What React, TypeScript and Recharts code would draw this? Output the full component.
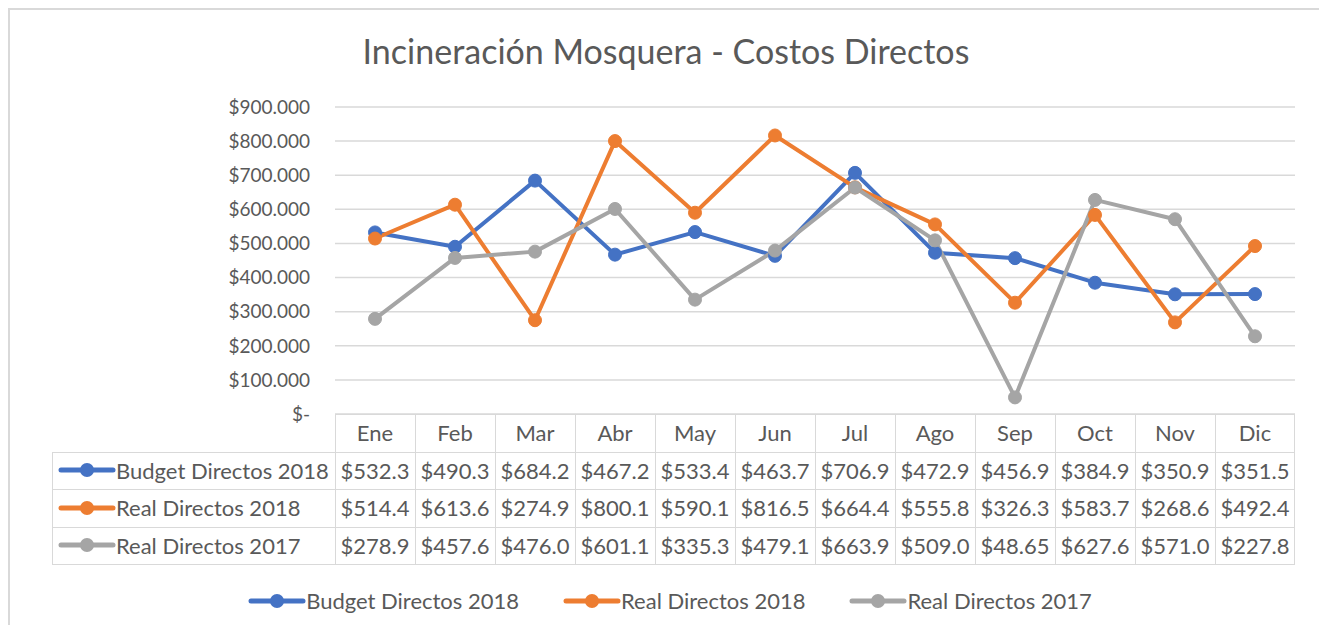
import { LineChart, Line, XAxis, YAxis, CartesianGrid } from "recharts";

const months = ["Ene", "Feb", "Mar", "Abr", "May", "Jun", "Jul", "Ago", "Sep", "Oct", "Nov", "Dic"];
// valores en miles de pesos
const budget2018 = [532.3, 490.3, 684.2, 467.2, 533.4, 463.7, 706.9, 472.9, 456.9, 384.9, 350.9, 351.5];
const real2018 = [514.4, 613.6, 274.9, 800.1, 590.1, 816.5, 664.4, 555.8, 326.3, 583.7, 268.6, 492.4];
const real2017 = [278.9, 457.6, 476.0, 601.1, 335.3, 479.1, 663.9, 509.0, 48.65, 627.6, 571.0, 227.8];
const yTicks = [0, 100, 200, 300, 400, 500, 600, 700, 800, 900];

const series = [
  { key: "budget2018", name: "Budget Directos 2018", color: "#4472C4", values: budget2018 },
  { key: "real2018", name: "Real Directos 2018", color: "#ED7D31", values: real2018 },
  { key: "real2017", name: "Real Directos 2017", color: "#A5A5A5", values: real2017 },
];

const data = months.map((m, i) => ({
  month: m,
  budget2018: budget2018[i],
  real2018: real2018[i],
  real2017: real2017[i],
}));

const FONT = "Lato, 'Liberation Sans', sans-serif";
const TEXT = "#595959";
const GRID = "#D9D9D9";

const cellText = (v: number) => "$" + v.toFixed(2).slice(0, 5);

function Marker({ color }: { color: string }) {
  return (
    <svg width={58} height={16} style={{ flex: "none" }}>
      <line x1={3} y1={8} x2={55} y2={8} stroke={color} strokeWidth={5} strokeLinecap="round" />
      <circle cx={29} cy={8} r={7} fill={color} />
    </svg>
  );
}

export default function App() {
  const plotLeft = 325;
  const colW = 80;
  const tableTop = 404;
  const rowH = 37.5;
  const labelLeft = 42;

  return (
    <div
      style={{
        position: "relative",
        width: 1315,
        height: 617,
        boxSizing: "border-box",
        border: `2px solid ${GRID}`,
        borderBottom: "none",
        background: "#fff",
        fontFamily: FONT,
        color: TEXT,
        overflow: "hidden",
      }}
    >
      <div style={{ position: "absolute", left: 0, top: 24, width: 1312, textAlign: "center", fontSize: 34, lineHeight: 1 }}>
        Incineración Mosquera - Costos Directos
      </div>

      <div style={{ position: "absolute", left: 0, top: 0 }}>
        <LineChart width={1310} height={420} data={data} margin={{ top: 97, right: 25, bottom: 16, left: 265 }}>
          <CartesianGrid vertical={false} stroke={GRID} strokeWidth={1.5} />
          <XAxis dataKey="month" hide padding={{ left: 40, right: 40 }} />
          <YAxis
            width={60}
            domain={[0, 900]}
            ticks={yTicks}
            tickSize={0}
            tickMargin={25}
            axisLine={false}
            tickLine={false}
            tick={{ fill: TEXT, fontSize: 19, fontFamily: FONT }}
            tickFormatter={(v: number) => (v === 0 ? "$-" : `$${v}.000`)}
          />
          {series.map((s) => (
            <Line
              key={s.key}
              dataKey={s.key}
              name={s.name}
              stroke={s.color}
              strokeWidth={4}
              strokeLinejoin="round"
              dot={{ r: 6.5, fill: s.color, stroke: s.color, strokeWidth: 1 }}
              isAnimationActive={false}
            />
          ))}
        </LineChart>
      </div>

      {/* tabla de datos */}
      {months.map((m, i) => (
        <div
          key={m}
          style={{
            position: "absolute",
            left: plotLeft + i * colW,
            top: tableTop,
            width: colW,
            height: rowH * 4,
            boxSizing: "border-box",
            borderLeft: `1.5px solid ${GRID}`,
            borderRight: i === months.length - 1 ? `1.5px solid ${GRID}` : "none",
          }}
        />
      ))}
      {[0, 1, 2, 3, 4].map((r) => (
        <div
          key={"h" + r}
          style={{
            position: "absolute",
            left: r === 0 ? plotLeft : labelLeft,
            top: tableTop + r * rowH,
            width: r === 0 ? colW * 12 : plotLeft - labelLeft + colW * 12,
            borderTop: `1.5px solid ${GRID}`,
          }}
        />
      ))}
      <div
        style={{
          position: "absolute",
          left: labelLeft,
          top: tableTop + rowH,
          height: rowH * 3,
          borderLeft: `1.5px solid ${GRID}`,
        }}
      />
      {months.map((m, i) => (
        <div
          key={"t" + m}
          style={{
            position: "absolute",
            left: plotLeft + i * colW,
            top: tableTop,
            width: colW,
            height: rowH,
            lineHeight: `${rowH}px`,
            textAlign: "center",
            fontSize: 22,
          }}
        >
          {m}
        </div>
      ))}
      {series.map((s, r) => (
        <div key={"r" + s.key}>
          <div
            style={{
              position: "absolute",
              left: labelLeft + 6,
              top: tableTop + (r + 1) * rowH,
              height: rowH,
              display: "flex",
              alignItems: "center",
              fontSize: 22,
              whiteSpace: "nowrap",
            }}
          >
            <Marker color={s.color} />
            <span>{s.name}</span>
          </div>
          {s.values.map((v, i) => (
            <div
              key={i}
              style={{
                position: "absolute",
                left: plotLeft + i * colW,
                top: tableTop + (r + 1) * rowH,
                width: colW,
                height: rowH,
                lineHeight: `${rowH}px`,
                textAlign: "center",
                fontSize: 22,
              }}
            >
              {cellText(v)}
            </div>
          ))}
        </div>
      ))}

      {/* leyenda */}
      <div
        style={{
          position: "absolute",
          left: 0,
          top: 577,
          width: 1320,
          display: "flex",
          justifyContent: "center",
          gap: 44,
          fontSize: 22,
        }}
      >
        {series.map((s) => (
          <div key={"l" + s.key} style={{ display: "flex", alignItems: "center", whiteSpace: "nowrap" }}>
            <Marker color={s.color} />
            <span>{s.name}</span>
          </div>
        ))}
      </div>
    </div>
  );
}
